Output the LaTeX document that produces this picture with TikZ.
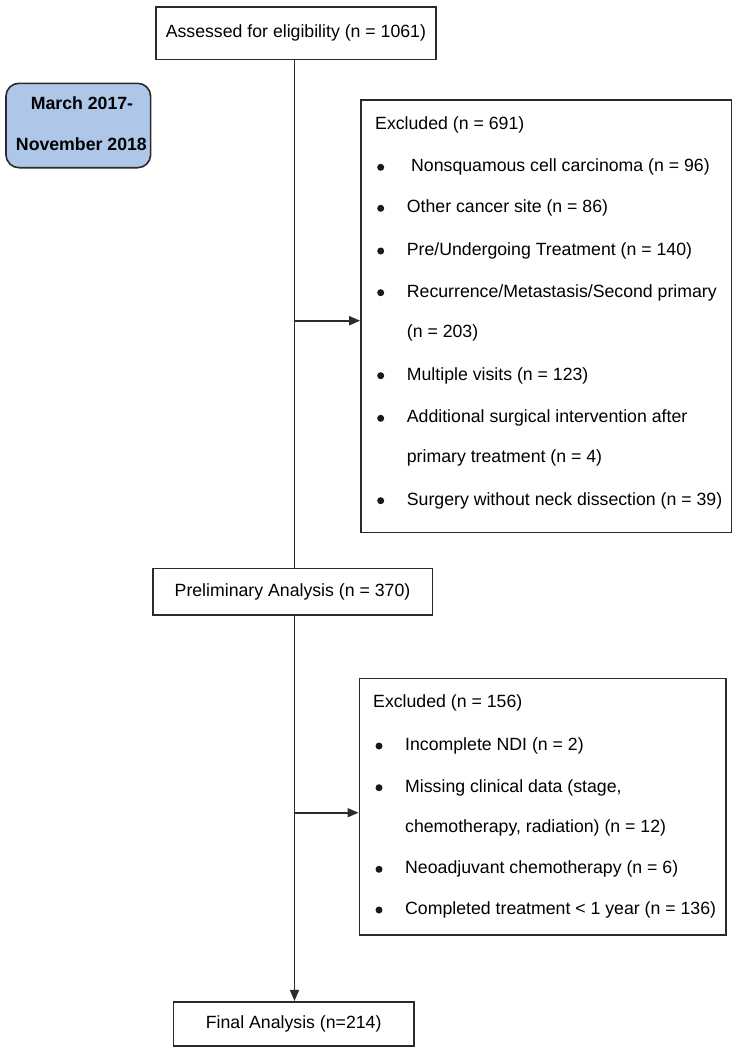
\documentclass[tikz,border=0pt]{standalone}
\usepackage{fontspec}
\setmainfont{Liberation Sans}
\usetikzlibrary{arrows.meta}
\definecolor{datefill}{HTML}{AEC6E8}
\definecolor{edge}{HTML}{2B2B2B}
\tikzset{
  box/.style={draw=edge, line width=1.6pt, fill=white, inner sep=0pt},
  datebox/.style={draw=edge, line width=1.6pt, fill=datefill, rounded corners=13pt, inner sep=0pt},
  txt/.style={anchor=west, inner sep=0pt, text height=12.7pt, text depth=3.7pt, font=\fontsize{17.7pt}{21pt}\selectfont},
  ctxt/.style={inner sep=0pt, text height=12.7pt, text depth=3.7pt, font=\fontsize{17.7pt}{21pt}\selectfont},
  bul/.style={circle, fill=black!90, inner sep=0pt, minimum size=7pt},
  conn/.style={draw=edge, line width=1.6pt},
  arr/.style={conn, -{Triangle[length=11pt,width=9pt]}},
}
\begin{document}
\begin{tikzpicture}[x=1pt,y=-1pt]
\useasboundingbox (0,0) rectangle (737,1050);
% boxes
\node[box, minimum width=280.3pt, minimum height=52.6pt] (assess) at (295.9,33) {};
\node[ctxt] (assesst) at (assess.center) {Assessed for eligibility (n = 1061)};
\node[datebox, minimum width=144.7pt, minimum height=84.4pt] (date) at (78.3,125.5) {};
\node[ctxt, font=\bfseries\fontsize{17.7pt}{21pt}\selectfont] (date1) at (82,105) {March 2017-};
\node[ctxt, font=\bfseries\fontsize{17.7pt}{21pt}\selectfont] (date2) at (81.4,146) {November 2018};
\node[box, minimum width=370.7pt, minimum height=432.7pt] (ex1) at (546.3,316.3) {};
\node[box, minimum width=279.6pt, minimum height=46.7pt] (prelim) at (292.5,591.7) {};
\node[ctxt] (prelimt) at (prelim.center) {Preliminary Analysis (n = 370)};
\node[box, minimum width=366.4pt, minimum height=256.7pt] (ex2) at (542.5,806.7) {};
\node[box, minimum width=240.7pt, minimum height=44.3pt] (final) at (293.7,1023.9) {};
\node[ctxt] (finalt) at (final.center) {Final Analysis (n=214)};

% connectors
\coordinate (j1) at (294.5,320.7);
\coordinate (j2) at (294.5,812.7);
\draw[conn] (assess.south -| j1) -- (prelim.north -| j1);
\draw[arr] (j1) -- (j1 -| ex1.west);
\draw[arr] (prelim.south -| j2) -- (final.north -| j2);
\draw[arr] (j2) -- (j2 -| ex2.west);

% excluded 1 text
\node[txt] (e1h) at (375,125) {Excluded (n = 691)};
\foreach \y/\n in {167.3/a,208.3/b,251/c,292.7/d,375.7/e,418.3/f,500.7/g}{
  \node[bul] (b1\n) at (380.7,\y) {};
}
\node[txt] (e1a) at (411,167.3) {Nonsquamous cell carcinoma (n = 96)};
\node[txt] (e1b) at (406.7,208.3) {Other cancer site (n = 86)};
\node[txt] (e1c) at (406.7,251) {Pre/Undergoing Treatment (n = 140)};
\node[txt] (e1d) at (406.7,292.7) {Recurrence/Metastasis/Second primary};
\node[txt] (e1d2) at (406.7,333.3) {(n = 203)};
\node[txt] (e1e) at (406.7,375.7) {Multiple visits (n = 123)};
\node[txt] (e1f) at (406.7,418.3) {Additional surgical intervention after};
\node[txt] (e1f2) at (406.7,458.3) {primary treatment (n = 4)};
\node[txt] (e1g) at (406.7,500.7) {Surgery without neck dissection (n = 39)};

% excluded 2 text
\node[txt] (e2h) at (373,703.3) {Excluded (n = 156)};
\foreach \y/\n in {746/a,787.7/b,869.3/c,910/d}{
  \node[bul] (b2\n) at (379,\y) {};
}
\node[txt] (e2a) at (405,746) {Incomplete NDI (n = 2)};
\node[txt] (e2b) at (405,787.7) {Missing clinical data (stage,};
\node[txt] (e2b2) at (405,828.3) {chemotherapy, radiation) (n = 12)};
\node[txt] (e2c) at (405,869.3) {Neoadjuvant chemotherapy (n = 6)};
\node[txt] (e2d) at (405,910) {Completed treatment < 1 year (n = 136)};
\end{tikzpicture}
\end{document}
